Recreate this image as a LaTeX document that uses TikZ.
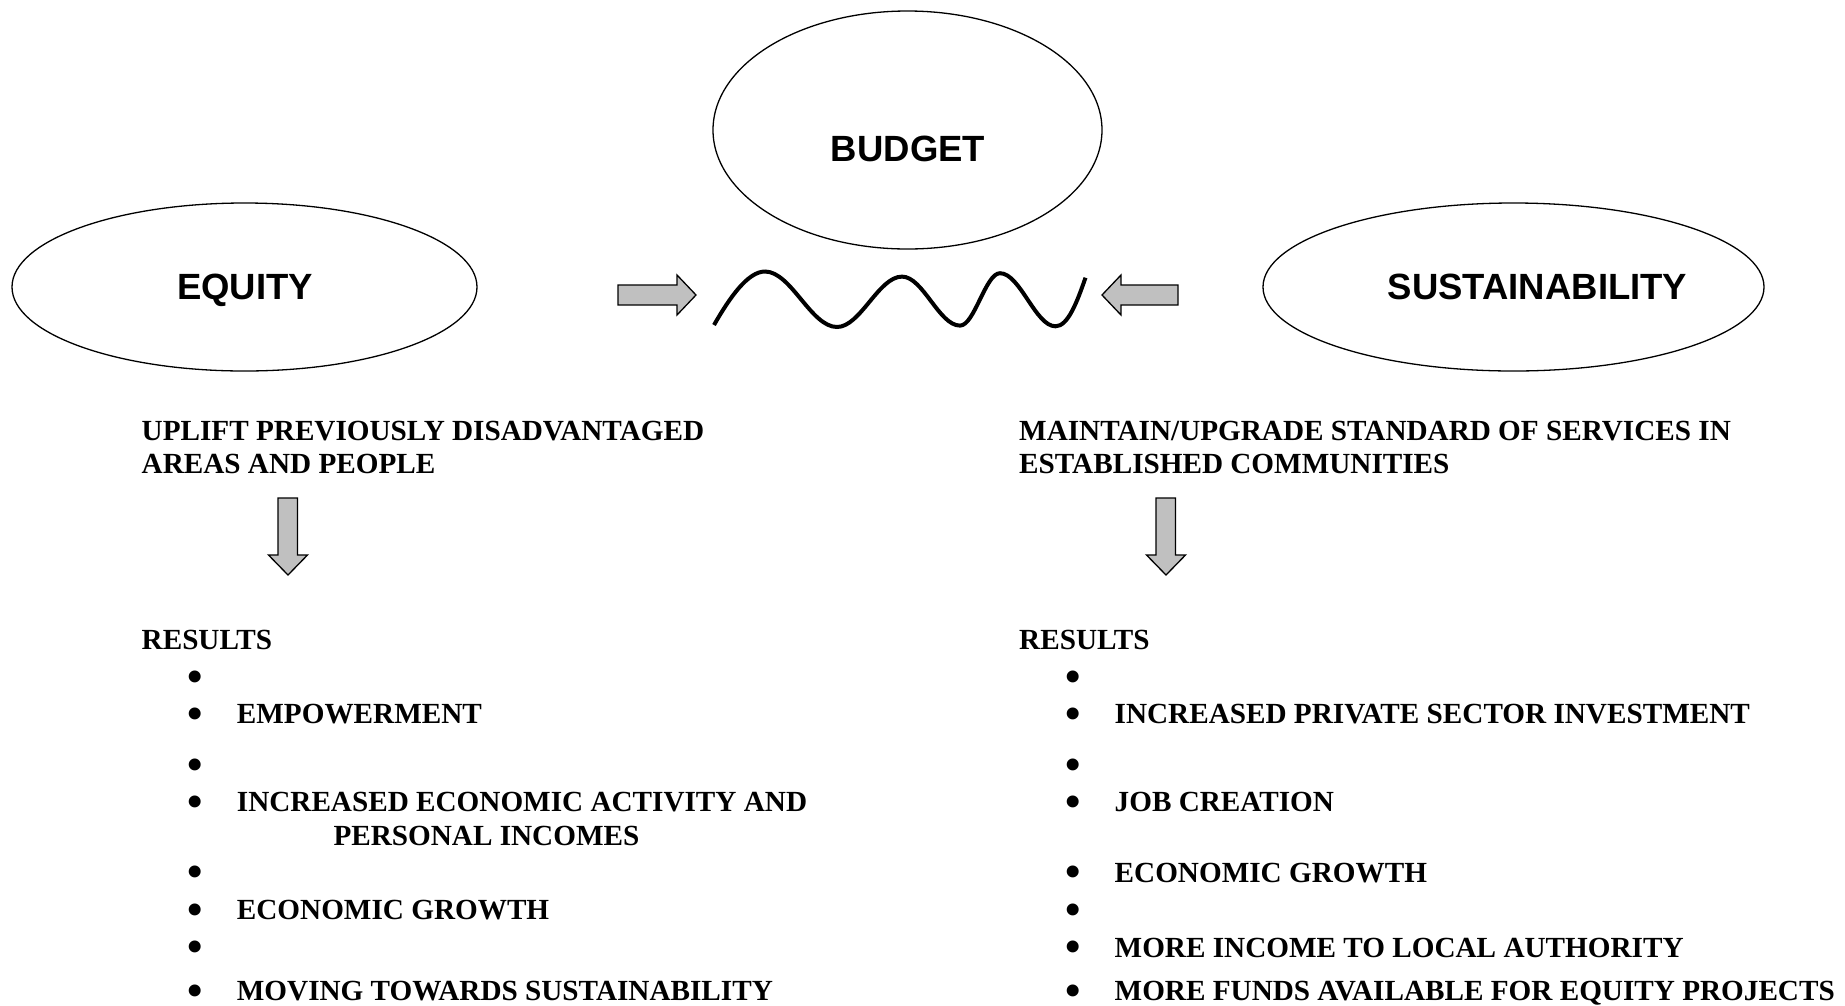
\documentclass[tikz,border=0pt]{standalone}
\usepackage{fontspec}
\setmainfont{Liberation Serif}
\newfontfamily\labelsans{Liberation Sans}
\usetikzlibrary{shapes.geometric}
\definecolor{arrowgray}{RGB}{192,192,192}
\tikzset{
  oval/.style={ellipse, draw=black, line width=1.3pt, inner sep=0pt, outer sep=0pt},
  bigtxt/.style={font=\labelsans\bfseries\fontsize{36.5}{40}\selectfont, inner sep=0pt, anchor=base},
  bodytxt/.style={font=\bfseries\fontsize{29.2}{33}\selectfont, inner sep=0pt, anchor=base west},
  bul/.style={font=\bfseries\fontsize{44}{48}\selectfont, inner sep=0pt, anchor=base, yshift=-5pt},
  blockarrow/.style={draw=black, fill=arrowgray, line width=1.3pt, line join=miter},
  wave/.style={draw=black, line width=4pt}
}
\begin{document}
\begin{tikzpicture}[x=1pt,y=-1pt]
\useasboundingbox[fill=white] (0,0) rectangle (1845,1005);

% ellipses
\node[oval, minimum width=465pt, minimum height=168pt] (equity) at (244.5,287) {};
\node[oval, minimum width=389pt, minimum height=238pt] (budget) at (907.5,130) {};
\node[oval, minimum width=501pt, minimum height=168pt] (sustain) at (1513.5,287) {};
\node[bigtxt] (equitytxt) at (245,299) {EQUITY};
\node[bigtxt] (budgettxt) at (908,161) {BUDGET};
\node[bigtxt] (sustaintxt) at (1537.5,299.5) {SUSTAINABILITY};

% horizontal block arrows
\draw[blockarrow] (618,285) -- (677,285) -- (677,275) -- (696,295) -- (677,315) -- (677,305) -- (618,305) -- cycle;
\draw[blockarrow] (1178,285) -- (1121,285) -- (1121,275) -- (1102,295) -- (1121,315) -- (1121,305) -- (1178,305) -- cycle;

% wave
\draw[wave] (714,325) .. controls (730,297) and (748,271.5) .. (765,271.5)
  .. controls (791,271.5) and (811,327) .. (837,327)
  .. controls (860.4,327) and (878.6,276.6) .. (902,276.6)
  .. controls (923,276.6) and (939,325.6) .. (960,325.6)
  .. controls (974.4,325.6) and (985.6,273.2) .. (1000,273.2)
  .. controls (1020,273.2) and (1035.5,326.3) .. (1055.5,326.3)
  .. controls (1068,326.3) and (1077,302) .. (1085.5,277.7);

% down block arrows
\draw[blockarrow] (278,498) -- (297.5,498) -- (297.5,555) -- (307.5,555) -- (288,575) -- (268.5,555) -- (278,555) -- cycle;
\draw[blockarrow] (1156,498) -- (1175.5,498) -- (1175.5,555) -- (1185.5,555) -- (1166,575) -- (1146.5,555) -- (1156,555) -- cycle;

% left column
\node[bodytxt] (l1) at (141.5,440.7) {UPLIFT PREVIOUSLY DISADVANTAGED};
\node[bodytxt] (l2) at (141.5,473.3) {AREAS AND PEOPLE};
\node[bodytxt] (lres) at (141.5,649.3) {RESULTS};
\node[bul] (lb1) at (195,686) {•};
\node[bul] (lb2) at (195,723) {•};
\node[bodytxt] (li2) at (236.7,723) {EMPOWERMENT};
\node[bul] (lb3) at (195,774) {•};
\node[bul] (lb4) at (195,811) {•};
\node[bodytxt] (li4) at (236.7,811) {INCREASED ECONOMIC ACTIVITY AND};
\node[bodytxt] (li5) at (333.3,845) {PERSONAL INCOMES};
\node[bul] (lb6) at (195,881) {•};
\node[bul] (lb7) at (195,919) {•};
\node[bodytxt] (li7) at (236.7,919) {ECONOMIC GROWTH};
\node[bul] (lb8) at (195,956) {•};
\node[bul] (lb9) at (195,1000) {•};
\node[bodytxt] (li9) at (236.7,1000) {MOVING TOWARDS SUSTAINABILITY};

% right column
\node[bodytxt] (r1) at (1019,440.7) {MAINTAIN/UPGRADE STANDARD OF SERVICES IN};
\node[bodytxt] (r2) at (1019,473.3) {ESTABLISHED COMMUNITIES};
\node[bodytxt] (rres) at (1019,649.3) {RESULTS};
\node[bul] (rb1) at (1073,686) {•};
\node[bul] (rb2) at (1073,723) {•};
\node[bodytxt] (ri2) at (1114.5,723) {INCREASED PRIVATE SECTOR INVESTMENT};
\node[bul] (rb3) at (1073,774) {•};
\node[bul] (rb4) at (1073,811) {•};
\node[bodytxt] (ri4) at (1114.5,811) {JOB CREATION};
\node[bul] (rb6) at (1073,881) {•};
\node[bodytxt] (ri6) at (1114.5,882) {ECONOMIC GROWTH};
\node[bul] (rb7) at (1073,919) {•};
\node[bul] (rb8) at (1073,956) {•};
\node[bodytxt] (ri8) at (1114.5,957) {MORE INCOME TO LOCAL AUTHORITY};
\node[bul] (rb9) at (1073,1000) {•};
\node[bodytxt] (ri9) at (1114.5,1000) {MORE FUNDS AVAILABLE FOR EQUITY PROJECTS};
\end{tikzpicture}
\end{document}
